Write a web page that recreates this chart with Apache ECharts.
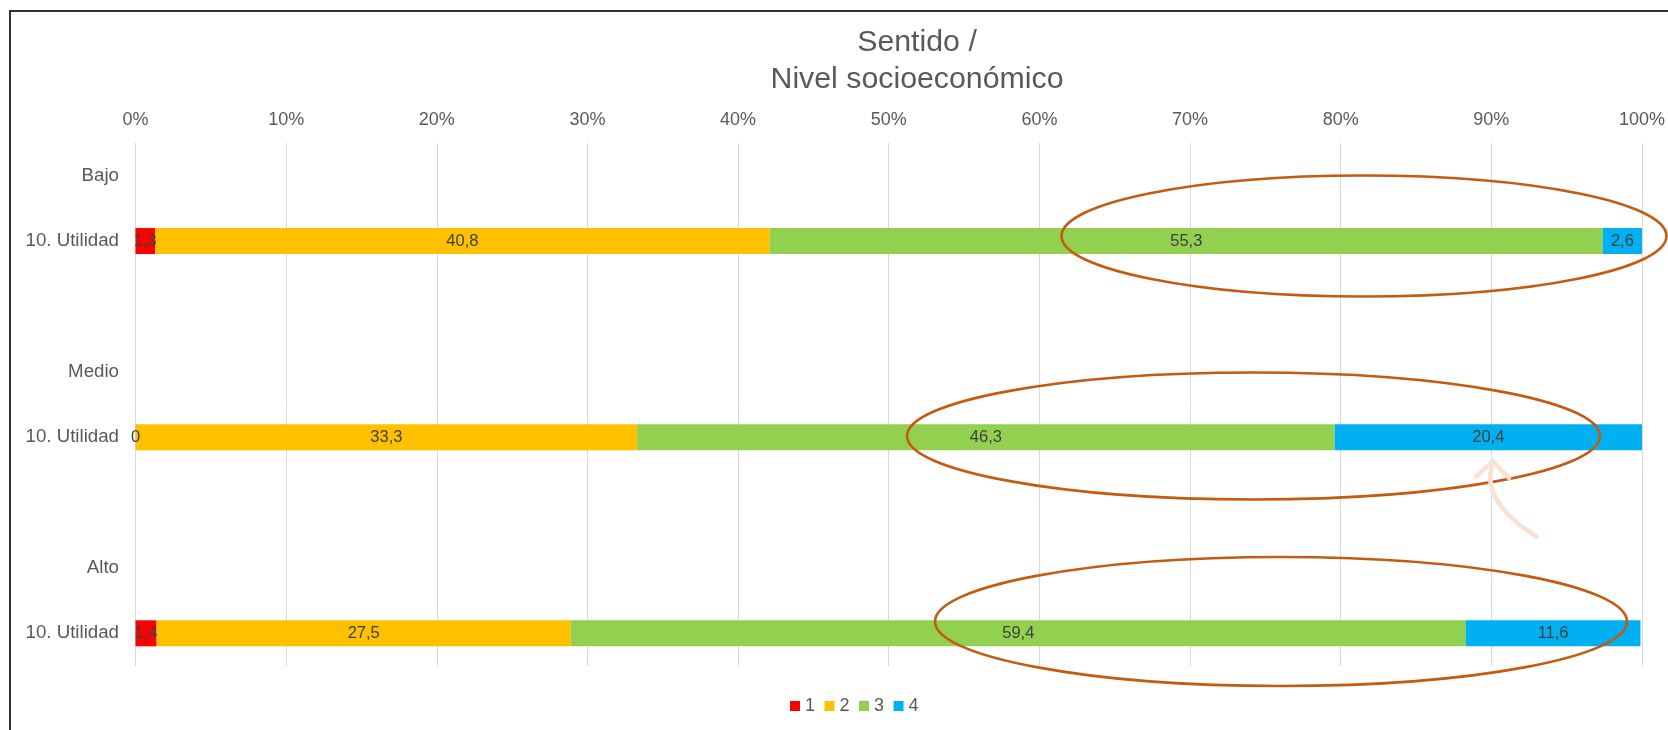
<!DOCTYPE html>
<html>
<head>
<meta charset="utf-8">
<title>Sentido / Nivel socioeconómico</title>
<script src="https://cdn.jsdelivr.net/npm/echarts@6/dist/echarts.min.js"></script>
<style>
  html, body { margin: 0; padding: 0; background: #fff; }
  #chart { width: 1668px; height: 730px; }
</style>
</head>
<body>
<div id="chart"></div>
<script>
// category slots of the y axis (header row, bar row, spacer)
var yLabels = ['Bajo', '10. Utilidad', '', 'Medio', '10. Utilidad', '', 'Alto', '10. Utilidad']
var barSlots = [1, 4, 7]
var seriesNames = ['1', '2', '3', '4']
var colors = ['#FF0000', '#FFC000', '#92D050', '#00B0F0']
// values per group: Bajo, Medio, Alto
var v1 = [1.3, 0, 1.4]
var v2 = [40.8, 33.3, 27.5]
var v3 = [55.3, 46.3, 59.4]
var v4 = [2.6, 20.4, 11.6]
var xTicks = [0, 10, 20, 30, 40, 50, 60, 70, 80, 90, 100]

var font = 'Liberation Sans, Arial, sans-serif'

function toSlots(values) {
  var out = yLabels.map(function () { return null })
  barSlots.forEach(function (slot, i) { out[slot] = values[i] })
  return out
}

var chart = echarts.init(document.getElementById('chart'))
var seriesValues = [v1, v2, v3, v4]

chart.setOption({
  animation: false,
  backgroundColor: '#fff',
  textStyle: { fontFamily: font },
  title: {
    text: 'Sentido /\nNivel socioeconómico',
    left: 917,
    top: 24,
    padding: 0,
    textAlign: 'center',
    textStyle: {
      color: '#595959',
      fontSize: 30.3,
      fontWeight: 'normal',
      lineHeight: 37,
      fontFamily: font
    }
  },
  legend: {
    data: seriesNames,
    left: 785,
    top: 692,
    icon: 'rect',
    itemWidth: 10,
    itemHeight: 10,
    itemGap: 9.5,
    textStyle: { color: '#595959', fontSize: 18, fontFamily: font }
  },
  grid: {
    left: 135.5,
    right: 26,
    top: 143,
    height: 523,
    containLabel: false
  },
  xAxis: {
    type: 'value',
    position: 'top',
    min: xTicks[0],
    max: xTicks[xTicks.length - 1],
    interval: 10,
    axisLine: { show: false },
    axisTick: { show: false },
    axisLabel: {
      formatter: '{value}%',
      color: '#595959',
      fontSize: 18,
      margin: 14,
      fontFamily: font
    },
    splitLine: { lineStyle: { color: '#D9D9D9', width: 1 } }
  },
  yAxis: {
    type: 'category',
    inverse: true,
    data: yLabels,
    axisLine: { show: false },
    axisTick: { show: false },
    axisLabel: {
      color: '#595959',
      fontSize: 18.7,
      margin: 16.5,
      interval: 0,
      fontFamily: font
    },
    splitLine: { show: false }
  },
  series: seriesNames.map(function (name, i) {
    return {
      name: name,
      type: 'bar',
      stack: 'total',
      barWidth: 26,
      itemStyle: { color: colors[i] },
      label: {
        show: true,
        position: 'inside',
        color: '#404040',
        fontSize: 16.5,
        fontFamily: font,
        formatter: function (p) {
          return String(p.value).replace('.', ',')
        }
      },
      data: toSlots(seriesValues[i])
    }
  }),
  graphic: [
    // outer frame of the original chart area
    {
      type: 'rect',
      shape: { x: 10, y: 11, width: 1700, height: 800 },
      style: { fill: 'none', stroke: '#333', lineWidth: 2 },
      z: 100
    },
    // hand drawn highlights
    {
      type: 'ellipse',
      shape: { cx: 1364, cy: 236, rx: 302.5, ry: 60.5 },
      style: { fill: 'none', stroke: '#C55A11', lineWidth: 2.6 },
      z: 100
    },
    {
      type: 'ellipse',
      shape: { cx: 1253.5, cy: 436, rx: 346.5, ry: 63.5 },
      style: { fill: 'none', stroke: '#C55A11', lineWidth: 2.6 },
      z: 100
    },
    {
      type: 'ellipse',
      shape: { cx: 1281, cy: 621.5, rx: 346, ry: 64.5 },
      style: { fill: 'none', stroke: '#C55A11', lineWidth: 2.6 },
      z: 100
    },
    {
      type: 'bezierCurve',
      shape: { x1: 1537, y1: 537, cpx1: 1479, cpy1: 500, x2: 1493, y2: 463 },
      style: { fill: 'none', stroke: '#F9E1D3', lineWidth: 4.5, lineCap: 'round' },
      z: 100
    },
    {
      type: 'polyline',
      shape: { points: [[1476, 477], [1493, 461], [1509, 478]] },
      style: { fill: 'none', stroke: '#F9E1D3', lineWidth: 4.5, lineCap: 'round', lineJoin: 'round' },
      z: 100
    }
  ]
})
</script>
</body>
</html>
